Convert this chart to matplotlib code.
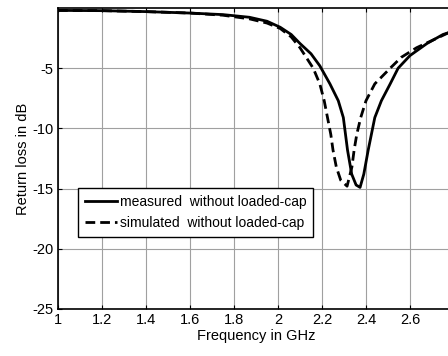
import matplotlib
matplotlib.use("Agg")
import matplotlib.pyplot as plt

plt.rcParams['font.family'] = ['Liberation Sans', 'DejaVu Sans']

# measured without loaded-cap
meas_f = [1.0, 1.2, 1.4, 1.6, 1.75, 1.87, 1.95, 2.01, 2.06, 2.1, 2.15, 2.19, 2.236, 2.274,
          2.297, 2.316, 2.335, 2.355, 2.373, 2.39, 2.41, 2.44, 2.47, 2.51, 2.546, 2.6, 2.677,
          2.75, 2.8]
meas_db = [-0.2, -0.22, -0.3, -0.42, -0.55, -0.77, -1.1, -1.6, -2.2, -2.95, -3.8, -4.8, -6.3, -7.7,
           -9.1, -11.8, -13.8, -14.7, -14.9, -13.8, -11.8, -9.1, -7.7, -6.3, -5.0, -3.95, -2.95,
           -2.2, -1.9]

# simulated without loaded-cap
sim_f = [1.0, 1.2, 1.4, 1.6, 1.75, 1.87, 1.95, 2.01, 2.06, 2.1, 2.16, 2.19, 2.21, 2.225, 2.24,
         2.25, 2.265, 2.285, 2.314, 2.336, 2.346, 2.358, 2.376, 2.4, 2.44, 2.51, 2.56, 2.63,
         2.7, 2.77, 2.8]
sim_db = [-0.2, -0.22, -0.3, -0.42, -0.6, -0.9, -1.25, -1.7, -2.4, -3.3, -5.0, -6.3, -7.7, -9.1,
          -10.5, -11.8, -13.2, -14.3, -14.8, -13.2, -11.8, -10.5, -9.1, -7.7, -6.3, -5.0, -4.1,
          -3.3, -2.7, -2.1, -1.9]

xticks = [1, 1.2, 1.4, 1.6, 1.8, 2, 2.2, 2.4, 2.6, 2.8]
xticklabels = ['1', '1.2', '1.4', '1.6', '1.8', '2', '2.2', '2.4', '2.6', '']
yticks = [-25, -20, -15, -10, -5]
yticklabels = ['-25', '-20', '-15', '-10', '-5']

fig = plt.figure(figsize=(4.48, 3.56), dpi=100)
ax = fig.add_axes([58/448, 47/356, (454-58)/448, (348-47)/356])

ax.plot(meas_f, meas_db, color='black', lw=2.0, ls='-', label='measured  without loaded-cap')
ax.plot(sim_f, sim_db, color='black', lw=2.0, ls=(0, (3.5, 1.8)), label='simulated  without loaded-cap')

ax.set_xlim(1, 2.8)
ax.set_ylim(-25, 0)
ax.set_xticks(xticks)
ax.set_xticklabels(xticklabels)
ax.set_yticks(yticks)
ax.set_yticklabels(yticklabels)
ax.grid(True, color='#a0a0a0', lw=0.8, ls='-')
ax.set_axisbelow(True)
ax.tick_params(direction='in', length=3, width=0.8, top=True, right=True, labelsize=10.5, pad=3)
for s in ax.spines.values():
    s.set_linewidth(1.2)

ax.set_xlabel('Frequency in GHz', fontsize=10.5, labelpad=1)
ax.set_ylabel('Return loss in dB', fontsize=10.5, labelpad=2)

leg = ax.legend(loc='upper left', bbox_to_anchor=((78-58)/396, (309-188)/301), fontsize=10,
                frameon=True, fancybox=False, framealpha=1, edgecolor='black',
                handlelength=2.3, handletextpad=0.2, borderpad=0.5, labelspacing=0.5,
                borderaxespad=0)
leg.get_frame().set_linewidth(1.0)

fig.savefig('out.png', dpi=100)
